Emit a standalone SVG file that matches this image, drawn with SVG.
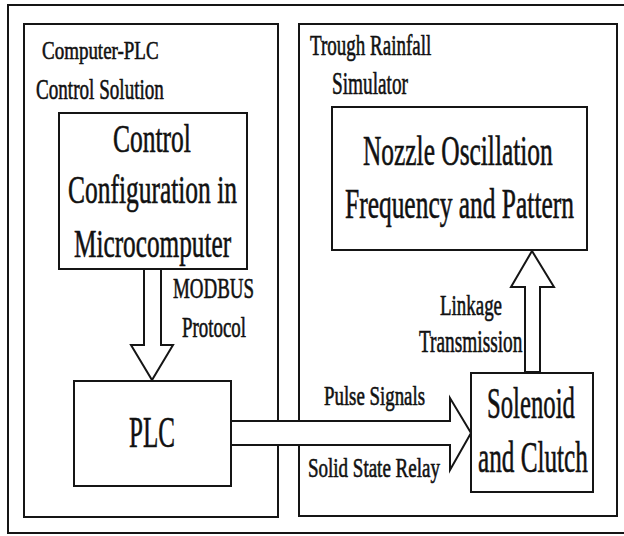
<svg xmlns="http://www.w3.org/2000/svg" width="624" height="536" viewBox="0 0 624 536">
  <style>
    .frame { fill: none; stroke: #151515; stroke-width: 2; }
    .box { fill: #ffffff; stroke: #151515; stroke-width: 2; }
    .arrow { fill: #ffffff; stroke: #151515; stroke-width: 2; stroke-linejoin: miter; }
    text { font-family: "Liberation Serif", "Times New Roman", serif; fill: #111111; stroke: #111111; stroke-width: 0.6; }
  </style>
  <rect x="0" y="0" width="624" height="536" fill="#ffffff"/>

  <!-- outer frame, open on the right -->
  <path class="frame" d="M 626 5 L 8 5 L 8 533 L 626 533"/>

  <!-- left panel -->
  <g id="panel-plc">
    <rect class="frame" x="24" y="24" width="254" height="493"/>
    <text transform="translate(42,59) scale(0.73,1)" font-size="26">Computer-PLC</text>
    <text transform="translate(36,99) scale(0.637,1)" font-size="30">Control Solution</text>
  </g>

  <!-- right panel -->
  <g id="panel-simulator">
    <rect class="frame" x="299" y="24" width="318" height="492"/>
    <text transform="translate(310,55) scale(0.634,1)" font-size="30">Trough Rainfall</text>
    <text transform="translate(332,94) scale(0.621,1)" font-size="31">Simulator</text>
  </g>

  <g id="node-config">
    <rect class="box" x="59" y="113" width="188" height="156"/>
    <text transform="translate(113,152) scale(0.622,1)" font-size="41">Control</text>
    <text transform="translate(68,203) scale(0.621,1)" font-size="41">Configuration in</text>
    <text transform="translate(74,257) scale(0.616,1)" font-size="41">Microcomputer</text>
  </g>

  <g id="node-plc">
    <rect class="box" x="74" y="381" width="157" height="105"/>
    <text transform="translate(129,447) scale(0.557,1)" font-size="45">PLC</text>
  </g>

  <g id="node-nozzle">
    <rect class="box" x="332" y="107" width="255" height="143"/>
    <text transform="translate(363,165) scale(0.605,1)" font-size="42">Nozzle Oscillation</text>
    <text transform="translate(345,218) scale(0.606,1)" font-size="42">Frequency and Pattern</text>
  </g>

  <g id="node-solenoid">
    <rect class="box" x="471" y="373" width="122" height="119"/>
    <text transform="translate(487,418) scale(0.562,1)" font-size="44">Solenoid</text>
    <text transform="translate(478,472) scale(0.573,1)" font-size="44">and Clutch</text>
  </g>

  <!-- connectors: hollow block arrows with their labels -->
  <g id="connectors">
    <polygon class="arrow" points="144,269 161,269 161,345 173,345 152,380 131,345 144,345"/>
    <text transform="translate(173,298) scale(0.631,1)" font-size="30">MODBUS</text>
    <text transform="translate(182,337) scale(0.651,1)" font-size="29">Protocol</text>

    <polygon class="arrow" points="231,421 450,421 450,398 471,433 450,470 450,445 231,445"/>
    <text transform="translate(324,405) scale(0.698,1)" font-size="27">Pulse Signals</text>
    <text transform="translate(308,477) scale(0.704,1)" font-size="27">Solid State Relay</text>

    <polygon class="arrow" points="525,372 525,287 511,287 532,251 554,287 540,287 540,372"/>
    <text transform="translate(440,315) scale(0.631,1)" font-size="30">Linkage</text>
    <text transform="translate(419,352) scale(0.623,1)" font-size="31">Transmission</text>
  </g>
</svg>
